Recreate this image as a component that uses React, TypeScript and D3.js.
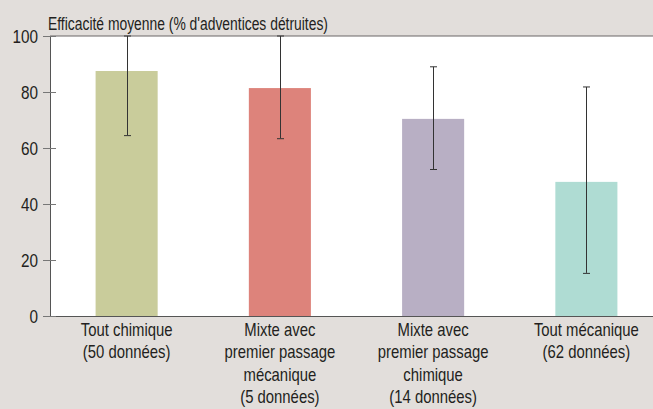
import * as d3 from 'd3';
import React from 'react';

// Chart data
const categories = ['tout-chimique', 'mixte-meca', 'mixte-chim', 'tout-meca'];
const labels = [
    ['Tout chimique', '(50 données)'],
    ['Mixte avec', 'premier passage', 'mécanique', '(5 données)'],
    ['Mixte avec', 'premier passage', 'chimique', '(14 données)'],
    ['Tout mécanique', '(62 données)'],
];
const means = [87.5, 81.4, 70.4, 47.9];
const errLow = [64.6, 63.5, 52.5, 15.4];
const errHigh = [100, 100, 89, 81.8];
const yTicks = [0, 20, 40, 60, 80, 100];
const colors = ['#c9cc9b', '#dd837b', '#b8afc4', '#afdcd3'];
const yTitle = "Efficacité moyenne (% d'adventices détruites)";

function App() {
    // Basic sizing
    const width = 653;
    const height = 409;
    const margin = { top: 36, right: 0, bottom: 93, left: 50 };
    // condensed look: Liberation Sans squeezed horizontally
    const font = '"Liberation Sans", Arial, sans-serif';
    const squeeze = 0.85;
    const ink = '#231f20';

    const x = d3.scaleBand()
        .domain(categories)
        .range([margin.left, 663])
        .paddingInner(0.595)
        .paddingOuter(0.2975);

    const y = d3.scaleLinear()
        .domain([0, 100])
        .range([height - margin.bottom, margin.top]);

    const bw = x.bandwidth();
    const cap = 3.5;

    return (
        <svg width={width} height={height} style={{ position: 'absolute', left: 0, top: 0 }}>
            <rect x={0} y={0} width={width} height={height} fill="#e2dedb" />
            {/* plot area */}
            <rect x={margin.left} y={y(100)} width={width - margin.left} height={y(0) - y(100)} fill="#ffffff" />
            <line x1={margin.left} x2={width} y1={y(100)} y2={y(100)} stroke="#6b6767" strokeWidth={1} />

            {/* bars */}
            {categories.map((c, i) => (
                <rect key={c} x={x(c)} y={y(means[i])} width={bw} height={y(0) - y(means[i])} fill={colors[i]} />
            ))}

            {/* error bars */}
            {categories.map((c, i) => {
                const cx = Math.round((x(c) as number) + bw / 2) + 0.5;
                return (
                    <g key={c} stroke="#333" strokeWidth={1}>
                        <line x1={cx} x2={cx} y1={y(errHigh[i])} y2={y(errLow[i])} />
                        <line x1={cx - cap} x2={cx + cap} y1={y(errHigh[i])} y2={y(errHigh[i])} />
                        <line x1={cx - cap} x2={cx + cap} y1={y(errLow[i]) + 0.5} y2={y(errLow[i]) + 0.5} />
                    </g>
                );
            })}

            {/* axes */}
            <line x1={margin.left + 0.5} x2={margin.left + 0.5} y1={y(100)} y2={y(0)} stroke="#555" strokeWidth={1} />
            <line x1={margin.left} x2={width} y1={y(0) + 0.5} y2={y(0) + 0.5} stroke="#555" strokeWidth={1.2} />
            {yTicks.map((t) => (
                <g key={t}>
                    <line x1={43} x2={56} y1={y(t) + 0.5} y2={y(t) + 0.5} stroke="#777" strokeWidth={1} />
                    <text transform={`translate(38,${y(t) + 6.5}) scale(${squeeze},1)`} textAnchor="end"
                        fontFamily={font} fontSize={18} fill={ink}>{t}</text>
                </g>
            ))}

            <text x={48} y={29.5} fontFamily={font} fontSize={17.5} fill={ink}
                textLength={280} lengthAdjust="spacingAndGlyphs">{yTitle}</text>

            {/* category labels */}
            {categories.map((c, i) => (
                <text key={c} transform={`translate(${(x(c) as number) + bw / 2},0) scale(${squeeze},1)`}
                    textAnchor="middle" fontFamily={font} fontSize={17.5} fill={ink}>
                    {labels[i].map((l, j) => (
                        <tspan key={j} x={0} y={336 + j * 22.5}>{l}</tspan>
                    ))}
                </text>
            ))}
        </svg>
    );
}

export default App;
